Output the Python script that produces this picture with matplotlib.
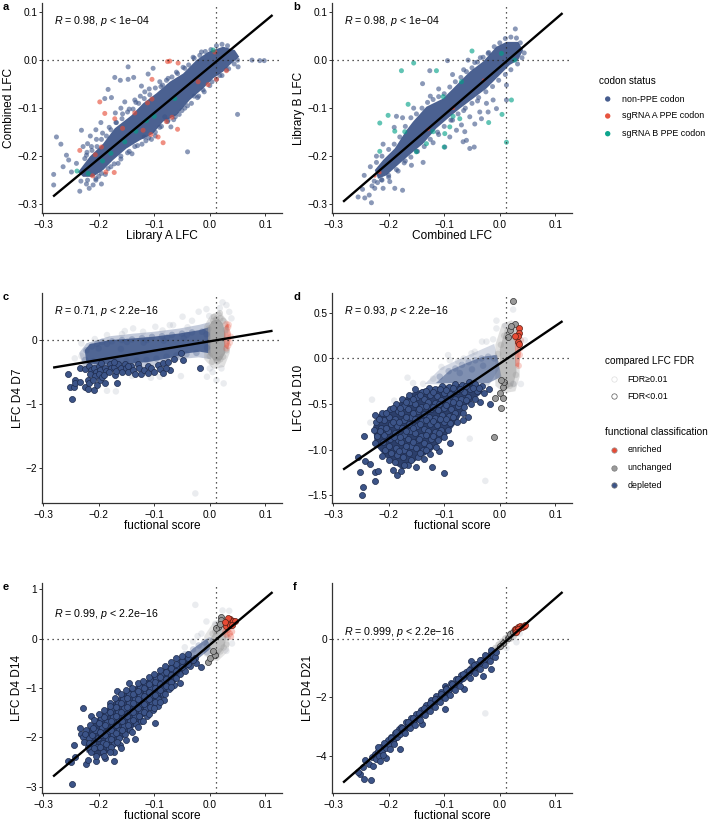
import numpy as np
import matplotlib
matplotlib.use('Agg')
import matplotlib.pyplot as plt

plt.rcParams['font.family'] = ['Liberation Sans', 'DejaVu Sans']
plt.rcParams['mathtext.fontset'] = 'custom'
plt.rcParams['mathtext.it'] = 'Liberation Sans:italic'
plt.rcParams['mathtext.rm'] = 'Liberation Sans'

BLUE = '#3C5488'
RED = '#E64B35'
TEAL = '#00A087'
GREY = '#9a9a9a'
DARK = '#2c3f6b'

# regression line ends, same x for every panel
line_x = [-0.282, 0.113]
a_line = [-0.284, 0.094]
b_line = [-0.295, 0.098]
c_line = [-0.43, 0.145]
d_line = [-1.22, 0.41]
e_line = [-2.79, 0.94]
f_line = [-4.93, 1.63]

# outlines of the regions where points overplot into a solid mass
a_core = [(-0.237,-0.233),(-0.216,-0.201),(-0.192,-0.174),(-0.171,-0.142),(-0.141,-0.115),(-0.12,-0.09),(-0.096,-0.069),(-0.072,-0.045),(-0.048,-0.028),
 (-0.024,0.0),(-0.003,0.017),(0.024,0.028),(0.045,0.021),(0.053,0.007),(0.036,-0.01),(0.024,-0.024),(0.006,-0.038),(-0.012,-0.059),(-0.036,-0.083),
 (-0.06,-0.115),(-0.084,-0.128),(-0.102,-0.153),(-0.126,-0.167),(-0.15,-0.184),(-0.174,-0.208),(-0.192,-0.229),(-0.21,-0.243),(-0.228,-0.243)]
b_core = [(-0.225,-0.229),(-0.21,-0.208),(-0.189,-0.184),(-0.168,-0.146),(-0.156,-0.128),(-0.132,-0.097),(-0.102,-0.08),(-0.078,-0.052),(-0.054,-0.024),
 (-0.03,-0.003),(-0.006,0.028),(0.012,0.038),(0.033,0.038),(0.042,0.021),(0.033,0.0),(0.018,-0.01),(0.0,-0.031),(-0.024,-0.059),(-0.048,-0.08),(-0.072,-0.101),
 (-0.09,-0.118),(-0.114,-0.142),(-0.138,-0.174),(-0.159,-0.194),(-0.18,-0.215),(-0.204,-0.24),(-0.219,-0.247)]
c_core_blue = [(-0.225,-0.156),(-0.216,-0.063),(-0.18,0.0),(-0.138,0.026),(-0.102,0.052),(-0.054,0.104),(-0.018,0.156),(0.001,0.208),(0.001,-0.208),
 (-0.018,-0.182),(-0.042,-0.208),(-0.066,-0.27),(-0.108,-0.339),(-0.168,-0.391),(-0.222,-0.365)]
c_halo_blue = [(-0.235,-0.2),(-0.222,-0.05),(-0.18,0.06),(-0.138,0.1),(-0.1,0.13),(-0.055,0.18),(-0.018,0.24),(0.0,0.28),(0.002,-0.3),(-0.02,-0.27),(-0.045,-0.29),
 (-0.07,-0.34),(-0.11,-0.42),(-0.17,-0.47),(-0.228,-0.42)]
c_core_grey = [(-0.003,0.2),(0.004,0.3),(0.016,0.33),(0.024,0.25),(0.028,0.1),(0.028,-0.2),(0.02,-0.32),(0.008,-0.32),(-0.003,-0.22)]
c_halo_grey = [(-0.01,0.22),(0.002,0.4),(0.018,0.45),(0.032,0.3),(0.036,-0.2),(0.026,-0.42),(0.006,-0.45),(-0.01,-0.3)]
c_core_red = [(0.026,0.2),(0.033,0.26),(0.038,0.1),(0.037,-0.02),(0.032,-0.15),(0.026,-0.1)]
d_core = [(-0.228,-0.75),(-0.22,-0.62),(-0.2,-0.55),(-0.18,-0.48),(-0.16,-0.38),(-0.135,-0.33),(-0.1,-0.3),(-0.06,-0.27),(-0.035,-0.29),(-0.03,-0.37),
 (-0.06,-0.52),(-0.075,-0.68),(-0.1,-0.88),(-0.125,-1.03),(-0.15,-1.12),(-0.175,-1.22),(-0.2,-1.12),(-0.225,-0.95)]
d_core_blue = [(-0.115,-0.27),(-0.09,-0.13),(-0.06,-0.05),(-0.03,0.02),(-0.005,0.04),(0.003,-0.2),(-0.02,-0.27),(-0.06,-0.27)]
d_halo_blue = [(-0.135,-0.28),(-0.105,-0.1),(-0.07,0.0),(-0.04,0.08),(-0.01,0.16),(0.0,-0.1),(-0.02,-0.3)]
d_core_grey = [(0.0,-0.28),(0.0,0.1),(0.008,0.28),(0.02,0.33),(0.028,0.2),(0.03,-0.15),(0.024,-0.3),(0.01,-0.33)]
d_halo_grey = [(-0.008,-0.3),(-0.008,0.15),(0.004,0.38),(0.022,0.42),(0.034,0.3),(0.036,-0.2),(0.028,-0.36),(0.008,-0.38)]
d_core_red = [(0.027,0.22),(0.036,0.2),(0.038,0.05),(0.034,-0.1),(0.028,-0.08)]
e_core = [(-0.222,-2.3),(-0.222,-1.88),(-0.2,-1.58),(-0.175,-1.3),(-0.15,-1.06),(-0.12,-0.88),(-0.08,-0.6),(-0.05,-0.42),(-0.034,-0.38),(-0.034,-0.52),
 (-0.06,-0.86),(-0.09,-1.26),(-0.12,-1.6),(-0.15,-1.95),(-0.175,-2.26),(-0.2,-2.4)]
e_core_blue = [(-0.05,-0.42),(-0.03,-0.2),(-0.005,0.0),(0.002,-0.2),(-0.02,-0.4)]
e_core_grey = [(0.0,-0.3),(0.0,-0.03),(0.012,0.2),(0.022,0.3),(0.03,0.05),(0.026,-0.2),(0.012,-0.38)]
e_halo_grey = [(-0.01,-0.35),(-0.01,0.05),(0.006,0.32),(0.02,0.42),(0.036,0.2),(0.034,-0.25),(0.014,-0.46)]
f_core = [(-0.225,-3.98),(-0.2,-3.42),(-0.15,-2.62),(-0.1,-1.84),(-0.05,-1.02),(-0.01,-0.4),(-0.006,-0.55),(-0.05,-1.22),(-0.1,-2.06),(-0.15,-2.9),(-0.2,-3.78),(-0.225,-4.2)]

# panel a, library A vs combined
a_blue = [(-0.276,-0.16),(-0.268,-0.175),(-0.281,-0.238),(-0.281,-0.26),(-0.234,-0.273),(-0.217,-0.267),(-0.258,-0.198),(-0.254,-0.208),
 (-0.264,-0.222),(-0.249,-0.233),(-0.231,-0.146),(-0.22,-0.174),(-0.183,-0.061),(-0.189,-0.08),(-0.177,-0.078),(-0.171,-0.036),
 (-0.147,-0.014),(-0.161,-0.042),(-0.147,-0.04),(-0.137,-0.036),(-0.123,-0.054),(-0.102,-0.017),(-0.111,-0.029),(-0.117,-0.066),
 (-0.153,-0.087),(-0.04,-0.191),(0.05,-0.113),(0.076,0.0),(0.09,-0.001),(0.098,-0.001),(0.051,-0.014),(-0.015,0.017),(-0.03,0.006),
 (-0.045,-0.017),(-0.07,-0.139),(-0.081,-0.118),(-0.21,-0.26),(-0.195,-0.258),(-0.24,-0.215),(-0.228,-0.18),(-0.215,-0.158),(-0.205,-0.145),
 (-0.196,-0.13),(-0.17,-0.11),(-0.16,-0.1),(-0.135,-0.083),(-0.125,-0.075),(-0.09,-0.045),(-0.075,-0.038),(-0.06,-0.025),
 (-0.232,-0.252),(-0.222,-0.258),(-0.205,-0.25),(-0.188,-0.238),(-0.165,-0.215),(-0.14,-0.195),(-0.115,-0.168),(-0.098,-0.15),(-0.062,-0.118),(-0.04,-0.095),(-0.02,-0.075),
 (-0.225,-0.205),(-0.221,-0.192),(-0.213,-0.18),(-0.204,-0.165),(-0.193,-0.152),(-0.181,-0.14),(-0.169,-0.13),(-0.157,-0.112),(-0.145,-0.102),(-0.133,-0.088),(-0.109,-0.06),(-0.085,-0.052),
 (-0.228,-0.23),(-0.2,-0.242),(-0.178,-0.222),(-0.16,-0.2),(-0.145,-0.19),(-0.13,-0.178),(-0.118,-0.16),(-0.105,-0.165),(-0.09,-0.14),(-0.075,-0.125),(-0.05,-0.105),(-0.028,-0.075),(-0.012,-0.062),(0.004,-0.045),(0.018,-0.032),(0.03,-0.02),
 (-0.222,-0.198),(-0.212,-0.188),(-0.203,-0.18),(-0.195,-0.165),(-0.186,-0.158),(-0.178,-0.145),(-0.168,-0.13),(-0.158,-0.122),(-0.148,-0.108),(-0.138,-0.102),(-0.128,-0.09),(-0.118,-0.08),(-0.108,-0.072),(-0.098,-0.058),(-0.088,-0.055),(-0.078,-0.042),(-0.068,-0.035),(-0.058,-0.028),(-0.048,-0.015),(-0.038,-0.01),(-0.028,0.004),(-0.018,0.01),(-0.008,0.018),(0.002,0.022),(0.012,0.03),(0.022,0.033),(0.032,0.03),
 (-0.22,-0.25),(-0.205,-0.247),(-0.195,-0.236),(-0.183,-0.226),(-0.172,-0.216),(-0.16,-0.206),(-0.148,-0.193),(-0.135,-0.18),(-0.122,-0.175),(-0.11,-0.162),(-0.098,-0.158),(-0.087,-0.138),(-0.076,-0.128),(-0.065,-0.124),(-0.055,-0.113),(-0.045,-0.1),(-0.033,-0.09),(-0.022,-0.078),(-0.01,-0.066),(0.0,-0.053),(0.012,-0.04),(0.022,-0.032),(0.034,-0.018),(0.044,-0.008),(0.05,0.0)]
a_red = [(-0.198,-0.087),(-0.189,-0.111),(-0.171,-0.122),(-0.234,-0.188),(-0.195,-0.181),(-0.206,-0.197),(-0.104,-0.04),(-0.135,-0.11),
 (-0.104,-0.081),(-0.112,-0.089),(-0.078,-0.128),(-0.058,-0.144),(-0.068,-0.119),(-0.093,-0.16),(-0.084,-0.172),(-0.106,-0.155),
 (-0.076,-0.003),(-0.072,-0.002),(-0.057,-0.006),(-0.172,-0.234),(-0.187,-0.233),(-0.211,-0.241),(0.012,-0.04),(-0.003,-0.051),
 (0.03,-0.022),(0.009,0.017),(-0.021,-0.045),(-0.157,-0.142),(-0.12,-0.146)]
a_teal = [(0.006,0.021),(-0.239,-0.231),(-0.219,-0.236),(-0.193,-0.21),(-0.178,-0.194),(-0.153,-0.17),(-0.133,-0.148),(-0.114,-0.126),(-0.1,-0.117),(-0.063,-0.08)]

# panel b, combined vs library B
b_blue = [(0.028,0.065),(-0.094,-0.001),(-0.126,-0.022),(-0.139,-0.049),(-0.186,-0.117),(-0.057,0.0),(-0.021,0.014),(-0.255,-0.285),
 (-0.243,-0.287),(-0.231,-0.297),(-0.235,-0.281),(-0.244,-0.24),(-0.247,-0.269),(-0.225,-0.267),(-0.21,-0.267),(-0.189,-0.267),
 (-0.175,-0.271),(-0.198,-0.253),(-0.183,-0.231),(-0.138,-0.213),(-0.159,-0.219),(-0.06,-0.167),(-0.046,-0.181),(-0.054,-0.184),
 (-0.066,-0.17),(-0.078,-0.146),(-0.063,-0.149),(-0.045,-0.133),(-0.033,-0.122),(-0.021,-0.108),(-0.006,-0.101),(-0.012,-0.083),
 (-0.024,-0.09),(-0.036,-0.108),(-0.054,-0.118),(-0.069,-0.135),(-0.09,-0.16),(-0.099,-0.181),(0.012,-0.052),(0.012,-0.083),
 (-0.22,-0.255),(-0.23,-0.262),(-0.212,-0.25),(-0.2,-0.24),(-0.17,-0.21),(-0.15,-0.19),(-0.12,-0.172),(-0.11,-0.155),(-0.085,-0.125),(-0.065,-0.105),(-0.04,-0.085),
 (-0.045,-0.005),(-0.035,0.005),(-0.065,-0.02),(-0.085,-0.03),(-0.11,-0.06),(-0.125,-0.075),(-0.155,-0.1),(-0.175,-0.12),(-0.19,-0.14),(-0.21,-0.175),(-0.222,-0.2),
 (-0.233,-0.222),(-0.222,-0.213),(-0.212,-0.2),(-0.2,-0.186),(-0.19,-0.175),(-0.18,-0.16),(-0.17,-0.138),(-0.16,-0.12),(-0.15,-0.112),(-0.14,-0.1),(-0.13,-0.088),(-0.12,-0.082),(-0.11,-0.076),(-0.1,-0.07),(-0.09,-0.056),(-0.08,-0.045),(-0.07,-0.036),(-0.06,-0.024),(-0.05,-0.016),(-0.04,-0.004),(-0.03,0.006),(-0.02,0.016),(-0.01,0.028),(0.0,0.036),(0.01,0.045),(0.02,0.048),(0.03,0.046),(0.037,0.036),
 (-0.226,-0.252),(-0.213,-0.249),(-0.2,-0.244),(-0.186,-0.228),(-0.172,-0.214),(-0.16,-0.202),(-0.148,-0.19),(-0.136,-0.18),(-0.125,-0.165),(-0.112,-0.15),(-0.1,-0.138),(-0.088,-0.125),(-0.075,-0.112),(-0.062,-0.1),(-0.05,-0.09),(-0.038,-0.078),(-0.025,-0.066),(-0.013,-0.055),(-0.002,-0.042),(0.01,-0.03),(0.02,-0.02),(0.032,-0.008),(0.04,0.005),(0.044,0.015)]
b_red = [(-0.225,-0.241),(-0.216,-0.234),(-0.129,-0.144),(-0.029,-0.042),(-0.084,-0.1)]
b_teal = [(-0.155,-0.006),(-0.177,-0.022),(-0.114,-0.022),(-0.05,0.019),(-0.165,-0.092),(-0.201,-0.115),(-0.216,-0.131),(-0.189,-0.148),
 (-0.216,-0.19),(0.021,-0.083),(0.004,-0.113),(0.012,-0.171),(0.027,0.0),(-0.02,-0.13),(-0.099,-0.153),(-0.1,-0.181),(-0.102,-0.076),
 (-0.084,-0.117),(-0.069,-0.045),(0.003,0.014),(-0.132,-0.174),(-0.15,-0.191),(-0.171,-0.149),(-0.12,-0.149),(-0.072,-0.122),(-0.09,-0.139)]

# panel c, D7: pale = lone FDR>=0.01 points, soft = same class at the edge of the dense cloud
c_pale = [(-0.049,0.365),(-0.032,0.302),(-0.02,0.443),(-0.006,0.484),(-0.001,0.375),(0.023,0.589),(0.03,0.547),(0.039,0.339),(-0.072,0.234),
 (-0.066,0.234),(-0.098,0.208),(-0.138,0.182),(-0.153,0.141),(-0.158,0.094),(-0.185,0.078),(-0.207,0.016),(-0.231,-0.052),(-0.243,-0.286),
 (-0.231,-0.25),(-0.185,-0.792),(-0.169,-0.802),(-0.106,-0.589),(-0.09,-0.573),(-0.052,-0.563),(-0.026,-2.396),(0.025,-0.677),(-0.005,-0.573),
 (0.0,-0.443),(0.012,-0.625),(0.021,-0.443),(-0.12,0.13),(-0.085,0.15),(-0.04,0.2),(0.035,0.44),(0.018,0.5),(0.005,-0.5),(-0.14,-0.56),(-0.16,-0.5)]
c_soft_blue = [(-0.222,-0.16),(-0.224,-0.31),(-0.212,-0.1),(-0.21,-0.33),(-0.203,-0.06),(-0.204,-0.35),
 (-0.194,-0.03),(-0.186,-0.34),(-0.176,-0.02),(-0.168,-0.33),(-0.158,0.0),(-0.15,-0.33),(-0.14,0.01),(-0.132,-0.32),
 (-0.122,0.03),(-0.114,-0.31),(-0.104,0.05),(-0.096,-0.29),(-0.086,0.06),(-0.078,-0.26),(-0.068,0.08),(-0.06,-0.24),
 (-0.05,0.1),(-0.042,-0.22),(-0.032,0.12),(-0.024,-0.2),(-0.014,0.13),(-0.005,-0.12),(-0.185,-0.06),(-0.149,-0.03),(-0.113,0.0),(-0.077,0.04),(-0.041,0.08),
 (-0.006,0.09),(-0.2,-0.13),(-0.16,-0.14),(-0.119,-0.04),(-0.083,-0.01),(-0.047,0.03)]
c_soft_grey = [(-0.002,0.18),(0.006,0.3),(0.004,-0.34),(0.012,0.33),(0.012,-0.31),(0.018,0.42),(0.019,0.34),(0.019,-0.3),(0.024,0.3),(0.024,-0.26),(0.029,0.16),(0.03,-0.16),(0.0,-0.25),(0.014,-0.33),(0.008,0.36)]
c_soft_red = [(0.03,0.25),(0.033,0.2),(0.036,-0.04),(0.033,-0.09),(0.03,-0.13),(0.034,0.24),(0.038,0.05)]
c_depleted = [(-0.256,-0.531),(-0.252,-0.729),(-0.245,-0.729),(-0.243,-0.625),(-0.243,-0.667),(-0.248,-0.927),(-0.233,-0.661),(-0.233,-0.443),
 (-0.224,-0.729),(-0.219,-0.766),(-0.208,-0.781),(-0.22,-0.625),(-0.217,-0.677),(-0.203,-0.703),(-0.197,-0.625),(-0.189,-0.667),(-0.167,-0.677),
 (-0.171,-0.547),(-0.018,-0.443),(-0.048,-0.313),(-0.051,-0.208),(-0.065,-0.302),(-0.071,-0.469),(-0.224,-0.45),(-0.218,-0.41),(-0.214,-0.47),(-0.216,-0.53),
 (-0.208,-0.43),(-0.205,-0.5),(-0.207,-0.56),(-0.211,-0.62),(-0.199,-0.41),(-0.197,-0.47),(-0.2,-0.53),(-0.194,-0.58),(-0.188,-0.43),(-0.186,-0.49),(-0.19,-0.55),
 (-0.18,-0.38),(-0.178,-0.44),(-0.181,-0.5),(-0.172,-0.42),(-0.168,-0.48),(-0.165,-0.38),(-0.16,-0.44),(-0.158,-0.5),(-0.153,-0.37),(-0.15,-0.43),(-0.147,-0.5),
 (-0.141,-0.41),(-0.138,-0.47),(-0.135,-0.53),(-0.13,-0.38),(-0.127,-0.44),(-0.124,-0.53),(-0.118,-0.46),(-0.112,-0.4),(-0.112,-0.52),(-0.105,-0.44),(-0.1,-0.5),
 (-0.094,-0.39),(-0.09,-0.45),(-0.085,-0.52),(-0.084,-0.36),(-0.078,-0.44),(-0.076,-0.35),(-0.147,-0.4),(-0.173,-0.35),(-0.195,-0.36)]

# panel d, D10
d_pale = [(-0.006,0.415),(0.024,0.537),(-0.026,-1.344),(-0.054,-0.881),(-0.23,-0.452),(-0.19,-0.463),(-0.166,-0.211),(-0.233,-0.704),(-0.156,-0.27),
 (-0.138,-0.278),(-0.12,-0.222),(-0.105,-0.093),(-0.093,0.037),(-0.09,-0.019),(-0.051,0.056),(-0.045,0.074),(-0.032,0.185),(-0.024,0.185),
 (-0.012,0.21),(-0.006,0.33),(0.01,0.36),(0.045,0.2),(0.038,-0.28),(0.025,-0.28),(-0.075,-0.03),(-0.065,0.0)]
d_soft_blue = [(-0.108,-0.2),(-0.092,-0.14),(-0.08,-0.11),(-0.068,-0.07),(-0.056,-0.04),(-0.044,-0.02),(-0.033,0.0),(-0.021,0.02),(-0.01,0.0),(-0.072,-0.16),(-0.05,-0.12),(-0.03,-0.08)]
d_soft_grey = [(0.002,0.15),(0.008,0.25),(0.014,0.3),(0.02,0.33),(0.026,0.3),(0.006,-0.24),(0.011,-0.3),(0.018,-0.3),(0.024,-0.28),(0.029,-0.18),(-0.003,0.05)]
d_soft_red = [(0.03,0.22),(0.036,0.04),(0.034,-0.08),(0.038,0.2),(0.037,0.11)]
d_grey = [(0.023,0.626),(-0.01,-0.867),(0.002,-0.548),(-0.009,-0.437),(0.0,-0.381),(0.005,-0.437),(0.005,-0.315),(0.007,-0.259),(0.002,-0.24),
 (0.027,0.378),(0.019,0.315),(0.021,0.352),(0.015,0.24)]
d_red = [(0.035,0.33),(0.035,0.278),(0.033,0.252),(0.027,0.252),(0.033,0.185),(0.035,0.156)]
d_depleted = [(-0.256,-1.078),(-0.252,-1.241),(-0.246,-1.411),(-0.248,-1.504),(-0.244,-0.852),(-0.243,-1.13),(-0.234,-1.159),(-0.224,-1.348),
 (-0.224,-1.241),(-0.219,-1.23),(-0.1,-1.252),(-0.122,-1.189),(-0.151,-1.193),(-0.165,-1.167),(-0.185,-1.278),(-0.177,-1.23),(-0.192,-1.222),
 (-0.09,-0.93),(-0.109,-1.011),(-0.018,-0.5),(-0.036,-0.481),(-0.057,-0.641),(-0.066,-0.678),
 (-0.225,-0.62),(-0.222,-0.7),(-0.226,-0.78),(-0.221,-0.85),(-0.224,-0.93),(-0.212,-0.6),(-0.209,-0.68),(-0.213,-0.76),(-0.208,-0.84),(-0.211,-0.92),(-0.207,-1.0),(-0.212,-1.07),
 (-0.198,-0.55),(-0.2,-0.64),(-0.196,-0.72),(-0.201,-0.8),(-0.197,-0.88),(-0.2,-0.96),(-0.195,-1.04),(-0.199,-1.12),
 (-0.187,-0.5),(-0.184,-0.58),(-0.188,-0.66),(-0.185,-0.74),(-0.189,-0.82),(-0.184,-0.9),(-0.187,-0.98),(-0.185,-1.06),(-0.188,-1.14),
 (-0.176,-0.44),(-0.173,-0.52),(-0.177,-0.6),(-0.172,-0.68),(-0.176,-0.76),(-0.173,-0.84),(-0.177,-0.92),(-0.172,-1.0),(-0.175,-1.08),(-0.172,-1.17),
 (-0.164,-0.4),(-0.161,-0.48),(-0.165,-0.56),(-0.16,-0.64),(-0.164,-0.72),(-0.161,-0.8),(-0.165,-0.88),(-0.16,-0.96),(-0.163,-1.04),(-0.16,-1.11),
 (-0.152,-0.34),(-0.149,-0.42),(-0.153,-0.5),(-0.148,-0.58),(-0.152,-0.66),(-0.149,-0.74),(-0.153,-0.82),(-0.148,-0.9),(-0.151,-0.98),(-0.148,-1.08),
 (-0.14,-0.37),(-0.137,-0.45),(-0.141,-0.53),(-0.136,-0.61),(-0.14,-0.69),(-0.137,-0.77),(-0.141,-0.85),(-0.136,-0.93),(-0.139,-1.01),(-0.137,-1.1),
 (-0.128,-0.32),(-0.125,-0.4),(-0.129,-0.48),(-0.124,-0.56),(-0.128,-0.64),(-0.125,-0.72),(-0.129,-0.8),(-0.124,-0.88),(-0.127,-0.96),(-0.125,-1.05),
 (-0.116,-0.33),(-0.113,-0.41),(-0.117,-0.49),(-0.112,-0.57),(-0.116,-0.65),(-0.113,-0.73),(-0.117,-0.81),(-0.112,-0.89),(-0.115,-0.97),
 (-0.104,-0.3),(-0.101,-0.38),(-0.105,-0.46),(-0.1,-0.54),(-0.104,-0.62),(-0.101,-0.7),(-0.105,-0.78),(-0.1,-0.86),
 (-0.092,-0.31),(-0.089,-0.39),(-0.093,-0.47),(-0.088,-0.55),(-0.092,-0.63),(-0.089,-0.71),(-0.093,-0.79),
 (-0.08,-0.28),(-0.077,-0.36),(-0.081,-0.44),(-0.076,-0.52),(-0.08,-0.6),(-0.077,-0.7),(-0.068,-0.29),(-0.065,-0.37),(-0.069,-0.45),(-0.064,-0.53),(-0.067,-0.6),
 (-0.056,-0.26),(-0.053,-0.34),(-0.057,-0.42),(-0.052,-0.5),(-0.044,-0.28),(-0.041,-0.36),(-0.045,-0.44),(-0.032,-0.3),(-0.029,-0.38),(-0.02,-0.33),
 (-0.218,-0.66),(-0.216,-0.8),(-0.204,-0.6),(-0.205,-0.76),(-0.192,-0.54),(-0.193,-0.7),(-0.191,-0.86),(-0.18,-0.54),(-0.181,-0.7),(-0.18,-0.86),(-0.181,-1.02),
 (-0.168,-0.48),(-0.169,-0.64),(-0.168,-0.8),(-0.169,-0.96),(-0.156,-0.44),(-0.157,-0.6),(-0.156,-0.76),(-0.157,-0.92),(-0.144,-0.4),(-0.145,-0.56),(-0.144,-0.72),(-0.145,-0.88),(-0.144,-1.04),
 (-0.132,-0.36),(-0.133,-0.52),(-0.132,-0.68),(-0.133,-0.84),(-0.132,-1.0),(-0.12,-0.37),(-0.121,-0.53),(-0.12,-0.69),(-0.121,-0.85),(-0.108,-0.34),(-0.109,-0.5),(-0.108,-0.66),(-0.109,-0.82),
 (-0.096,-0.35),(-0.097,-0.51),(-0.096,-0.67),(-0.084,-0.32),(-0.085,-0.48),(-0.084,-0.64),(-0.072,-0.33),(-0.073,-0.49),(-0.06,-0.3),(-0.061,-0.46),(-0.048,-0.32),(-0.037,-0.32)]

# panel e, D14
e_pale = [(-0.026,0.682),(-0.006,0.345),(0.023,0.568),(0.035,0.561),(-0.03,-0.06),(-0.045,-0.176),(-0.015,0.1),(-0.022,0.05),(0.03,-0.25),(0.04,-0.1),(0.01,0.3)]
e_soft_blue = [(-0.045,-0.32),(-0.03,-0.22),(-0.02,-0.14),(-0.01,-0.08),(-0.005,-0.28),(0.0,-0.04)]
e_soft_grey = [(0.005,0.1),(0.01,0.14),(0.016,0.2),(0.022,0.27),(0.007,-0.38),(0.013,-0.34),(0.019,-0.26),(0.025,-0.18),(0.03,-0.12),(0.032,0.02)]
e_soft_red = [(0.028,0.14),(0.03,0.08),(0.033,0.18),(0.036,0.1),(0.038,0.04),(0.04,0.14),(0.034,0.26),(0.03,0.22)]
e_grey = [(0.021,0.446),(0.02,0.378),(0.015,0.243),(0.012,0.22),(-0.003,-0.48),(0.001,-0.4),(0.009,-0.33),(0.018,0.3),(0.006,-0.25)]
e_red = [(0.03,0.26),(0.034,0.33),(0.036,0.39),(0.033,0.42),(0.039,0.32),(0.042,0.36),(0.046,0.35),(0.036,0.27),(0.028,0.33),(0.04,0.27)]
e_depleted = [(-0.248,-2.94),(-0.256,-2.486),(-0.244,-2.149),(-0.229,-1.405),(-0.243,-2.39),(-0.223,-2.534),(-0.205,-2.48),(-0.172,-2.486),(-0.22,-2.46),
 (-0.134,-2.04),(-0.099,-1.709),(-0.214,-1.568),(-0.145,-0.899),(-0.167,-1.06),(-0.18,-1.31),(-0.234,-1.818),(-0.232,-1.94),(-0.25,-2.5),(-0.016,-0.568),
 (-0.228,-2.0),(-0.226,-2.1),(-0.222,-1.85),(-0.22,-2.2),(-0.218,-2.02),(-0.215,-1.75),(-0.213,-2.3),(-0.212,-1.95),(-0.21,-2.12),(-0.208,-1.65),(-0.206,-1.85),(-0.205,-2.38),(-0.203,-2.2),(-0.202,-2.02),
 (-0.196,-1.6),(-0.194,-1.78),(-0.195,-1.95),(-0.193,-2.12),(-0.192,-2.3),(-0.188,-2.42),(-0.186,-1.5),(-0.185,-1.68),(-0.184,-1.86),(-0.183,-2.04),(-0.182,-2.22),(-0.176,-1.4),(-0.175,-1.58),(-0.174,-1.76),(-0.174,-1.94),(-0.173,-2.12),(-0.172,-2.3),
 (-0.166,-1.3),(-0.165,-1.48),(-0.164,-1.66),(-0.164,-1.84),(-0.163,-2.02),(-0.162,-2.16),(-0.156,-1.22),(-0.155,-1.4),(-0.154,-1.58),(-0.154,-1.76),(-0.153,-1.94),(-0.146,-1.12),(-0.145,-1.3),(-0.144,-1.48),(-0.144,-1.66),(-0.143,-1.84),
 (-0.136,-1.05),(-0.135,-1.22),(-0.134,-1.39),(-0.134,-1.56),(-0.133,-1.73),(-0.126,-0.98),(-0.125,-1.15),(-0.124,-1.32),(-0.124,-1.49),(-0.123,-1.66),(-0.116,-0.92),(-0.115,-1.08),(-0.114,-1.24),(-0.114,-1.4),(-0.113,-1.56),
 (-0.106,-0.85),(-0.105,-1.0),(-0.104,-1.15),(-0.104,-1.3),(-0.103,-1.45),(-0.096,-0.8),(-0.095,-0.94),(-0.094,-1.08),(-0.094,-1.22),(-0.093,-1.36),(-0.086,-0.7),(-0.085,-0.84),(-0.084,-0.98),(-0.084,-1.12),(-0.083,-1.24),
 (-0.076,-0.6),(-0.075,-0.74),(-0.074,-0.88),(-0.074,-1.02),(-0.066,-0.55),(-0.065,-0.68),(-0.064,-0.8),(-0.064,-0.94),(-0.056,-0.48),(-0.055,-0.6),(-0.054,-0.72),(-0.054,-0.9),(-0.046,-0.42),(-0.045,-0.54),(-0.044,-0.66),
 (-0.036,-0.46),(-0.035,-0.56),(-0.026,-0.4),(-0.025,-0.5),
 (-0.224,-1.93),(-0.217,-2.12),(-0.211,-1.8),(-0.209,-2.22),(-0.199,-1.7),(-0.198,-1.88),(-0.198,-2.2),(-0.19,-1.58),(-0.189,-1.75),(-0.188,-1.95),(-0.187,-2.13),(-0.179,-1.48),(-0.178,-1.66),(-0.178,-1.85),(-0.177,-2.03),(-0.177,-2.2),
 (-0.169,-1.38),(-0.169,-1.56),(-0.168,-1.74),(-0.168,-1.92),(-0.167,-2.1),(-0.159,-1.3),(-0.159,-1.48),(-0.158,-1.67),(-0.158,-1.85),(-0.149,-1.2),(-0.149,-1.38),(-0.149,-1.57),(-0.148,-1.75),(-0.139,-1.13),(-0.139,-1.3),(-0.139,-1.48),(-0.138,-1.65),
 (-0.129,-1.06),(-0.129,-1.23),(-0.129,-1.4),(-0.128,-1.57),(-0.119,-1.0),(-0.119,-1.16),(-0.119,-1.32),(-0.118,-1.48),(-0.109,-0.92),(-0.109,-1.08),(-0.109,-1.23),(-0.108,-1.38),(-0.099,-0.87),(-0.099,-1.01),(-0.099,-1.15),(-0.098,-1.29),
 (-0.089,-0.77),(-0.089,-0.91),(-0.089,-1.05),(-0.079,-0.67),(-0.079,-0.81),(-0.079,-0.95),(-0.07,-0.6),(-0.07,-0.74),(-0.07,-0.87),(-0.06,-0.52),(-0.06,-0.66),(-0.06,-0.8),(-0.05,-0.46),(-0.05,-0.58),(-0.04,-0.4),(-0.04,-0.52),(-0.03,-0.44),
 (-0.2,-1.52),(-0.19,-1.44),(-0.18,-1.36),(-0.17,-1.2),(-0.16,-1.12),(-0.15,-1.05),(-0.14,-1.0),(-0.13,-0.9),(-0.12,-0.86),(-0.11,-0.78),(-0.1,-0.72),(-0.09,-0.64),(-0.08,-0.56),(-0.07,-0.48),(-0.06,-0.4),(-0.05,-0.36),(-0.04,-0.32),
 (-0.19,-2.38),(-0.18,-2.3),(-0.16,-2.22),(-0.15,-2.05),(-0.14,-1.9),(-0.13,-1.78),(-0.12,-1.66),(-0.11,-1.52),(-0.1,-1.4),(-0.09,-1.28),(-0.08,-1.12),(-0.07,-0.98)]

# panel f, D21
f_pale = [(-0.026,-2.549),(0.03,-0.1),(0.022,0.15),(0.012,-0.3),(0.036,0.2)]
f_soft_grey = [(-0.012,-0.42),(-0.008,-0.3),(-0.004,-0.34),(-0.002,-0.18),(0.002,-0.25),(0.004,-0.08),(0.008,-0.16),(0.01,0.03),(0.013,-0.05),(0.016,0.12),(0.019,0.02),(0.021,0.22),(0.025,0.1),(0.026,0.3),(0.029,0.2),(0.031,0.35)]
f_grey = [(0.014,0.05),(0.019,0.18),(0.023,0.24),(0.006,-0.12),(0.0,-0.22),(0.027,0.3)]
f_red = [(0.027,0.36),(0.03,0.34),(0.032,0.42),(0.035,0.38),(0.037,0.46),(0.04,0.43),(0.043,0.47),(0.033,0.34),(0.029,0.27),(0.045,0.5)]
f_depleted = [(-0.232,-4.834),(-0.244,-4.811),(-0.252,-4.64),(-0.256,-4.583),(-0.243,-4.149),(-0.18,-3.783),(-0.14,-2.903),(-0.099,-2.389),(-0.064,-1.726),
 (-0.03,-1.246),(-0.015,-1.006),(-0.051,-0.754),(-0.098,-1.611),(-0.246,-4.411),(-0.204,-4.069),
 (-0.236,-4.3),(-0.23,-4.05),(-0.228,-4.35),(-0.225,-3.95),(-0.222,-4.12),(-0.22,-3.85),(-0.218,-4.02),(-0.216,-4.2),(-0.214,-3.72),(-0.212,-3.85),(-0.21,-3.98),(-0.207,-3.6),(-0.205,-3.74),(-0.202,-3.48),(-0.2,-3.62),(-0.198,-3.78),
 (-0.195,-3.36),(-0.193,-3.5),(-0.19,-3.62),(-0.188,-3.22),(-0.185,-3.36),(-0.182,-3.1),(-0.18,-3.26),(-0.177,-3.02),(-0.174,-3.12),(-0.171,-3.22),(-0.168,-2.86),(-0.165,-2.96),(-0.162,-3.06),(-0.159,-2.72),(-0.156,-2.82),(-0.153,-2.94),
 (-0.15,-2.56),(-0.147,-2.66),(-0.144,-2.76),(-0.141,-2.42),(-0.138,-2.52),(-0.135,-2.62),(-0.132,-2.26),(-0.129,-2.36),(-0.126,-2.46),(-0.123,-2.1),(-0.12,-2.22),(-0.117,-2.32),(-0.114,-1.96),(-0.111,-2.06),(-0.108,-2.16),
 (-0.105,-1.82),(-0.102,-1.92),(-0.099,-2.02),(-0.096,-1.66),(-0.093,-1.78),(-0.09,-1.9),(-0.087,-1.52),(-0.084,-1.62),(-0.081,-1.74),(-0.078,-1.38),(-0.075,-1.48),(-0.072,-1.6),(-0.069,-1.22),(-0.066,-1.34),
 (-0.06,-1.12),(-0.057,-1.2),(-0.054,-1.32),(-0.051,-0.98),(-0.048,-1.06),(-0.045,-1.16),(-0.042,-0.84),(-0.039,-0.94),(-0.036,-1.02),(-0.033,-0.7),(-0.03,-0.78),(-0.027,-0.9),(-0.024,-0.58),(-0.021,-0.66),(-0.018,-0.76),(-0.015,-0.46),(-0.012,-0.56),(-0.009,-0.62),(-0.006,-0.42),
 (-0.219,-3.72),(-0.208,-3.56),(-0.196,-3.4),(-0.186,-3.2),(-0.176,-3.04),(-0.166,-2.86),(-0.156,-2.7),(-0.146,-2.54),(-0.136,-2.38),(-0.126,-2.2),(-0.116,-2.04),(-0.106,-1.88),(-0.096,-1.7),(-0.086,-1.54),(-0.076,-1.38),(-0.066,-1.2),(-0.056,-1.04),(-0.046,-0.88),(-0.036,-0.72),(-0.026,-0.54),(-0.016,-0.38)]

xticks = [-0.3, -0.2, -0.1, 0.0, 0.1]
xticklabels = ['\u22120.3', '\u22120.2', '\u22120.1', '0.0', '0.1']


def pts(ax, data, color, s=19, alpha=1.0, edge='none', lw=0.0, z=2):
    arr = np.array(data)
    ax.scatter(arr[:, 0], arr[:, 1], s=s, c=color, alpha=alpha, edgecolors=edge, linewidths=lw, zorder=z)


def mass(ax, outline, color, alpha=1.0, z=1.5):
    arr = np.array(outline)
    ax.fill(arr[:, 0], arr[:, 1], color=color, alpha=alpha, lw=0, zorder=z)


def setup(box, ylim, yticks, yticklabels, xlabel, ylabel, line_y, letter, stat, stat_y):
    l, t, r, b = box
    ax = fig.add_axes([l / W, 1 - b / H, (r - l) / W, (b - t) / H])
    ax.set_xlim(-0.302, 0.13)
    ax.set_ylim(*ylim)
    ax.axhline(0, color='#222222', lw=0.9, ls=(0, (1, 3)), zorder=5)
    ax.axvline(0.012, color='#222222', lw=0.9, ls=(0, (1, 3)), zorder=5)
    ax.plot(line_x, line_y, color='black', lw=1.7, zorder=6, solid_capstyle='butt')
    ax.set_xticks(xticks)
    ax.set_xticklabels(xticklabels)
    ax.set_yticks(yticks)
    ax.set_yticklabels(yticklabels)
    ax.set_xlabel(xlabel, fontsize=8.6, labelpad=-0.5)
    ax.set_ylabel(ylabel, fontsize=8.6, labelpad=1.5)
    ax.tick_params(labelsize=7.3, length=2, width=0.7, pad=1.5, color='#333333')
    ax.tick_params(axis='x', pad=3)
    for side in ['top', 'right']:
        ax.spines[side].set_visible(False)
    for side in ['left', 'bottom']:
        ax.spines[side].set_linewidth(0.9)
        ax.spines[side].set_color('#333333')
    ax.text(-0.281, stat_y, stat, fontsize=7.7, va='center', ha='left', zorder=7)
    fig.text((l - 39) / W, 1 - (t + 4.5) / H, letter, fontsize=8, fontweight='bold', va='center')
    return ax


W, H = 708, 821
fig = plt.figure(figsize=(W / 100, H / 100), dpi=100)

ax_a = setup((42, 3, 282, 213.3), (-0.319, 0.119), [-0.3, -0.2, -0.1, 0.0, 0.1],
             ['\u22120.3', '\u22120.2', '\u22120.1', '0.0', '0.1'], 'Library A LFC', 'Combined LFC', a_line, 'a',
             '$\\mathit{R}$ = 0.98, $\\mathit{p}$ < 1e\u221204', 0.081)
mass(ax_a, a_core, BLUE, 0.92)
pts(ax_a, a_blue, BLUE, s=13, alpha=0.6)
pts(ax_a, a_red, RED, s=13, alpha=0.62, z=3)
pts(ax_a, a_teal, TEAL, s=13, alpha=0.62, z=3)

ax_b = setup((332, 3, 572, 213.3), (-0.319, 0.119), [-0.3, -0.2, -0.1, 0.0, 0.1],
             ['\u22120.3', '\u22120.2', '\u22120.1', '0.0', '0.1'], 'Combined LFC', 'Library B LFC', b_line, 'b',
             '$\\mathit{R}$ = 0.98, $\\mathit{p}$ < 1e\u221204', 0.081)
mass(ax_b, b_core, BLUE, 0.92)
pts(ax_b, b_blue, BLUE, s=13, alpha=0.6)
pts(ax_b, b_teal, TEAL, s=13, alpha=0.62, z=3)
pts(ax_b, b_red, RED, s=7, alpha=0.7, z=3)

ax_c = setup((42, 292.7, 282, 503.3), (-2.55, 0.74), [-2, -1, 0], ['\u22122', '\u22121', '0'],
             'fuctional score', 'LFC D4 D7', c_line, 'c',
             '$\\mathit{R}$ = 0.71, $\\mathit{p}$ < 2.2e\u221216', 0.46)
pts(ax_c, c_pale, '#8f97a8', s=22, alpha=0.18)
mass(ax_c, c_halo_blue, BLUE, 0.3)
mass(ax_c, c_halo_grey, GREY, 0.3)
mass(ax_c, c_core_blue, BLUE, 0.85)
mass(ax_c, c_core_grey, GREY, 0.8)
mass(ax_c, c_core_red, RED, 0.45)
pts(ax_c, c_soft_blue, BLUE, s=22, alpha=0.3)
pts(ax_c, c_soft_grey, GREY, s=22, alpha=0.35)
pts(ax_c, c_soft_red, RED, s=22, alpha=0.22)
pts(ax_c, c_depleted, BLUE, s=19, edge='#1d2b4d', lw=0.5, z=3)

ax_d = setup((332, 292.7, 572, 503.3), (-1.59, 0.722), [-1.5, -1.0, -0.5, 0.0, 0.5],
             ['\u22121.5', '\u22121.0', '\u22120.5', '0.0', '0.5'], 'fuctional score', 'LFC D4 D10', d_line, 'd',
             '$\\mathit{R}$ = 0.93, $\\mathit{p}$ < 2.2e\u221216', 0.52)
pts(ax_d, d_pale, '#8f97a8', s=22, alpha=0.18)
mass(ax_d, d_halo_blue, BLUE, 0.22)
mass(ax_d, d_halo_grey, GREY, 0.3)
mass(ax_d, d_core_blue, BLUE, 0.55)
mass(ax_d, d_core_grey, GREY, 0.5)
mass(ax_d, d_core_red, RED, 0.45)
mass(ax_d, d_core, DARK)
pts(ax_d, d_soft_blue, BLUE, s=22, alpha=0.25)
pts(ax_d, d_soft_grey, GREY, s=22, alpha=0.3)
pts(ax_d, d_soft_red, RED, s=22, alpha=0.25)
pts(ax_d, d_grey, GREY, s=19, edge='#333333', lw=0.5, z=3)
pts(ax_d, d_red, RED, s=19, edge='#5a1f15', lw=0.5, z=3)
pts(ax_d, d_depleted, BLUE, s=19, edge='#1d2b4d', lw=0.5, z=3)

ax_e = setup((42, 582.7, 282, 793.3), (-3.13, 1.13), [-3, -2, -1, 0, 1], ['\u22123', '\u22122', '\u22121', '0', '1'],
             'fuctional score', 'LFC D4 D14', e_line, 'e',
             '$\\mathit{R}$ = 0.99, $\\mathit{p}$ < 2.2e\u221216', 0.5)
pts(ax_e, e_pale, '#8f97a8', s=22, alpha=0.18)
mass(ax_e, e_halo_grey, GREY, 0.25)
mass(ax_e, e_core_blue, BLUE, 0.6)
mass(ax_e, e_core_grey, GREY, 0.5)
mass(ax_e, e_core, DARK)
pts(ax_e, e_soft_blue, BLUE, s=22, alpha=0.25)
pts(ax_e, e_soft_grey, GREY, s=22, alpha=0.3)
pts(ax_e, e_soft_red, RED, s=22, alpha=0.3)
pts(ax_e, e_grey, GREY, s=19, edge='#333333', lw=0.5, z=3)
pts(ax_e, e_red, RED, s=19, edge='#5a1f15', lw=0.5, z=3)
pts(ax_e, e_depleted, BLUE, s=19, edge='#1d2b4d', lw=0.5, z=3)

ax_f = setup((332, 582.7, 572, 793.3), (-5.3, 1.95), [-4, -2, 0], ['\u22124', '\u22122', '0'],
             'fuctional score', 'LFC D4 D21', f_line, 'f',
             '$\\mathit{R}$ = 0.999, $\\mathit{p}$ < 2.2e\u221216', 0.26)
pts(ax_f, f_pale, '#8f97a8', s=22, alpha=0.18)
mass(ax_f, f_core, BLUE)
pts(ax_f, f_soft_grey, GREY, s=22, alpha=0.42)
pts(ax_f, f_grey, GREY, s=19, edge='#333333', lw=0.5, z=3)
pts(ax_f, f_red, RED, s=19, edge='#5a1f15', lw=0.5, z=3)
pts(ax_f, f_depleted, BLUE, s=19, edge='#1d2b4d', lw=0.5, z=3)

# legends are drawn by hand in pixel coordinates of the figure
leg = fig.add_axes([0, 0, 1, 1], facecolor='none')
leg.set_xlim(0, W)
leg.set_ylim(H, 0)
leg.axis('off')
leg.text(599, 81, 'codon status', fontsize=7.2, va='center')
for y, lab, col in zip([99, 116, 133.7], ['non-PPE codon', 'sgRNA A PPE codon', 'sgRNA B PPE codon'], [BLUE, RED, TEAL]):
    leg.scatter([607.7], [y], s=15, c=col, alpha=0.95, edgecolors='none')
    leg.text(621.7, y, lab, fontsize=6.4, va='center')
leg.text(605, 360.7, 'compared LFC FDR', fontsize=7.2, va='center')
leg.scatter([613.7], [379], s=15, c='white', edgecolors='#dddddd', linewidths=0.5)
leg.text(627.3, 379, 'FDR\u22650.01', fontsize=6.4, va='center')
leg.scatter([613.7], [396.3], s=15, c='white', edgecolors='#555555', linewidths=0.5)
leg.text(627.3, 396.3, 'FDR<0.01', fontsize=6.4, va='center')
leg.text(605, 432, 'functional classification', fontsize=7.2, va='center')
for y, lab, col, ec in zip([450, 467.7, 485], ['enriched', 'unchanged', 'depleted'], [RED, GREY, BLUE], ['#999999', '#777777', '#777777']):
    leg.scatter([613.7], [y], s=15, c=col, edgecolors=ec, linewidths=0.5)
    leg.text(627.3, y, lab, fontsize=6.4, va='center')

fig.savefig('out.png', dpi=100)
